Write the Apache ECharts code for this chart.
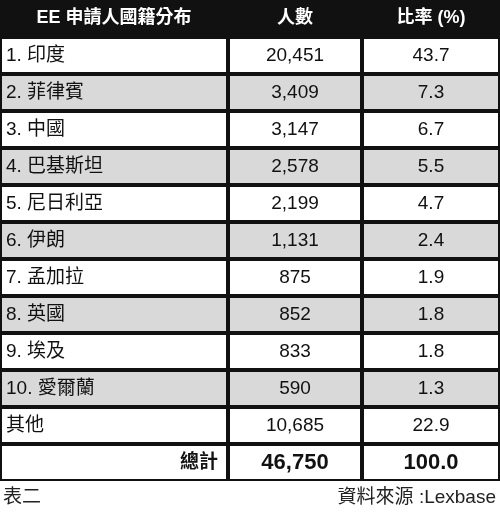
<!DOCTYPE html><html><head><meta charset="utf-8"><script src="https://cdn.jsdelivr.net/npm/echarts@6/dist/echarts.min.js"></script>
<style>html,body{margin:0;padding:0;background:#fff}#c{width:500px;height:521px}</style></head><body><div id="c"></div><script>
const headers=["EE 申請人國籍分布","人數","比率 (%)"];
const countries=["1. 印度","2. 菲律賓","3. 中國","4. 巴基斯坦","5. 尼日利亞","6. 伊朗","7. 孟加拉","8. 英國","9. 埃及","10. 愛爾蘭","其他"];
const counts=["20,451","3,409","3,147","2,578","2,199","1,131","875","852","833","590","10,685"];
const shares=["43.7","7.3","6.7","5.5","4.7","2.4","1.9","1.8","1.8","1.3","22.9"];
const totalLabel="總計", totalCount="46,750", totalShare="100.0";
const footLeft="表二", footRight="資料來源 :Lexbase";
const colEdges=[0,228,362,500];
const rows=[];const data=[];
const nRows=countries.length+2;
for(let r=0;r<nRows;r++)rows.push('r'+r);
headers.forEach((h,c)=>data.push([c,0,h,'head']));
countries.forEach((n,i)=>{const t=(i%2==1)?'gray':'body';data.push([0,i+1,n,t]);data.push([1,i+1,counts[i],t]);data.push([2,i+1,shares[i],t]);});
data.push([0,nRows-1,totalLabel,'total']);data.push([1,nRows-1,totalCount,'total']);data.push([2,nRows-1,totalShare,'total']);
const F='"Liberation Sans","Noto Sans CJK TC",sans-serif';
const chart=echarts.init(document.getElementById('c'));
chart.setOption({animation:false,
grid:{left:0,right:0,top:0,bottom:40},
xAxis:{type:'value',min:0,max:500,show:false},
yAxis:{type:'category',data:rows,inverse:true,show:false},
graphic:[{type:'text',left:3,top:488,style:{text:footLeft,font:'19px '+F,fill:'#222'}},
{type:'text',right:4,top:488,style:{text:footRight,font:'19px '+F,fill:'#222'}}],
series:[{type:'custom',data:data,renderItem:(p,api)=>{
 const c=api.value(0),r=api.value(1),d=data[p.dataIndex],type=d[3];
 const x0=api.coord([colEdges[c],r])[0],x1=api.coord([colEdges[c+1],r])[0];
 const yc=api.coord([0,r])[1],h=api.size([0,1])[1];
 const y0=yc-h/2;
 let fill='#fff',tc='#111',font='19px '+F,align='center',tx=(x0+x1)/2;
 if(type==='head'){fill='#111';tc='#fff';font='bold 18px '+F;}
 if(type==='gray')fill='#d9d9d9';
 if(type==='total'){font='bold 22px '+F;}
 if(c===0&&type!=='head'){align=type==='total'?'right':'left';tx=type==='total'?x1-10:x0+6;if(type==='total')font='bold 19px '+F;}
 return {type:'group',children:[
  {type:'rect',shape:{x:x0+1,y:y0+1,width:x1-x0-2,height:h-2},style:{fill:fill,stroke:'#111',lineWidth:2}},
  {type:'text',style:{x:tx,y:yc,text:d[2],textAlign:align,textVerticalAlign:'middle',font:font,fill:tc}}]};
}}]});
</script></body></html>
